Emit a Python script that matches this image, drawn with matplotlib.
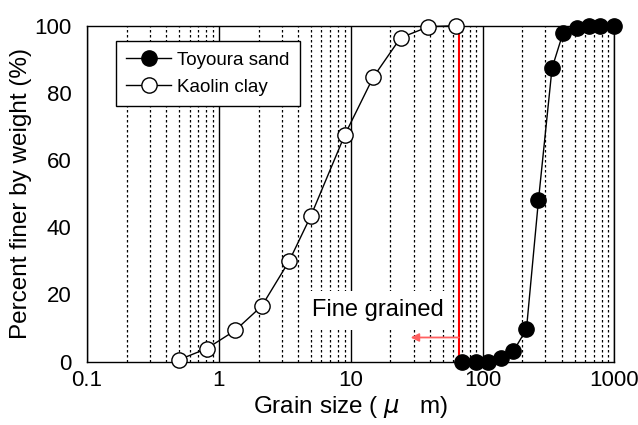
import numpy as np
import matplotlib
matplotlib.use("Agg")
import matplotlib.pyplot as plt

plt.rcParams['font.family'] = ['Liberation Sans', 'DejaVu Sans']

# Data
kaolin_size = [0.50, 0.81, 1.33, 2.12, 3.42, 4.99, 9.05, 14.8, 23.9, 38.9, 62.4]
kaolin_pct = [0.6, 3.9, 9.3, 16.6, 30.0, 43.4, 67.6, 84.6, 96.4, 99.7, 100.0]
toyoura_size = [70, 89.6, 109.7, 138.6, 171.7, 215.4, 265.7, 337, 408, 521, 638, 783, 1000]
toyoura_pct = [0, 0, 0, 1.1, 3.2, 9.6, 48, 87.4, 97.8, 99.4, 100, 100, 100]
fine_limit = 66
arrow_end = 28.5
arrow_y = 7.2
xticks = [0.1, 1, 10, 100, 1000]
xticklabels = ['0.1', '1', '10', '100', '1000']
yticks = [0, 20, 40, 60, 80, 100]

fig = plt.figure(figsize=(6.38, 4.25), dpi=100)
ax = fig.add_axes([0.1364, 0.149, 0.8265, 0.7905])
ax.set_xscale('log')
ax.set_xlim(0.1, 1000)
ax.set_ylim(0, 100)

# grid lines
ax.grid(True, which='major', axis='x', color='black', linestyle='-', linewidth=1.0)
ax.grid(True, which='minor', axis='x', color='black', linestyle=(0, (2, 2)), linewidth=0.9)
ax.set_axisbelow(True)

ax.plot([fine_limit, fine_limit], [0, 100], color='red', lw=1.5, zorder=3)
ax.annotate('', xy=(arrow_end, arrow_y), xytext=(fine_limit, arrow_y),
            arrowprops=dict(arrowstyle='-|>', color='#ff6060', lw=1.3,
                            mutation_scale=12, shrinkA=0, shrinkB=0), zorder=3)

ax.plot(toyoura_size, toyoura_pct, '-o', color='black', mfc='black', mec='black',
        ms=11, lw=1, label='Toyoura sand', clip_on=False, zorder=4)
ax.plot(kaolin_size, kaolin_pct, '-o', color='black', mfc='white', mec='black',
        ms=11, mew=1, lw=1, label='Kaolin clay', clip_on=False, zorder=4)

ax.text(16.0, 15.3, 'Fine grained', fontsize=17, ha='center', va='center',
        bbox=dict(facecolor='white', edgecolor='none', pad=6), zorder=3.5)

ax.set_xticks(xticks)
ax.set_xticklabels(xticklabels)
ax.set_yticks(yticks)
ax.tick_params(axis='both', which='both', length=0, labelsize=16)
ax.tick_params(axis='x', pad=6)
ax.tick_params(axis='y', pad=11)

for s in ax.spines.values():
    s.set_linewidth(1.0)
    s.set_color('black')

ax.set_xlabel('Grain size ( $\\mu$   m)', fontsize=17.5, labelpad=2)
ax.set_ylabel('Percent finer by weight (%)', fontsize=17.5, labelpad=2)

leg = ax.legend(loc='upper left', bbox_to_anchor=(0.055, 0.954), borderaxespad=0,
                fontsize=13.5, frameon=True, fancybox=False, edgecolor='black',
                handlelength=2.4, handletextpad=0.3, labelspacing=0.55,
                borderpad=0.55)
leg.get_frame().set_linewidth(1.0)
leg.get_frame().set_alpha(1)

fig.savefig('out.png', dpi=100)
